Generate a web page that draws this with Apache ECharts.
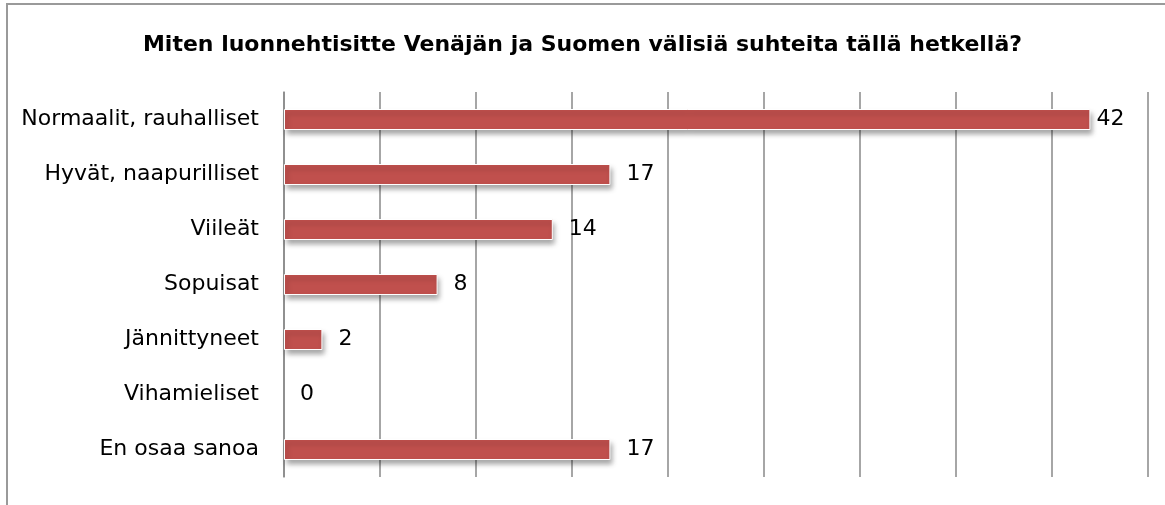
<!DOCTYPE html>
<html>
<head>
<meta charset="utf-8">
<script src="https://cdn.jsdelivr.net/npm/echarts@6/dist/echarts.min.js"></script>
<style>
  html, body { margin: 0; padding: 0; background: #fff; overflow: hidden; }
  #frame { position: absolute; left: 6px; top: 3px; width: 1200px; height: 600px;
           border-left: 2px solid #9a9a9a; border-top: 2px solid #9a9a9a; pointer-events: none; }
</style>
</head>
<body>
<div id="main" style="width: 1165px;height:505px;"></div>
<div id="frame"></div>
<script type="text/javascript">
    // kategoriat ja arvot
    var categories = ['Normaalit, rauhalliset', 'Hyvät, naapurilliset', 'Viileät', 'Sopuisat', 'Jännittyneet', 'Vihamieliset', 'En osaa sanoa'];
    var values = [42, 17, 14, 8, 2, 0, 17];
    var axisMin = 0;
    var axisMax = 45;
    var axisStep = 5;

    var myChart = echarts.init(document.getElementById('main'));
    var font = '"DejaVu Sans", sans-serif';

    var maxVal = Math.max.apply(null, values);
    var barData = values.map(function (v) {
        var item = {
            value: v,
            label: { distance: v === maxVal ? 6 : 16 }
        };
        // nollapalkille ei varjoa
        if (v === 0) {
            item.itemStyle = { shadowBlur: 0, shadowOffsetX: 0, shadowOffsetY: 0, borderWidth: 0 };
        }
        return item;
    });

    var option = {
        animation: false,
        backgroundColor: '#fff',
        title: {
            text: 'Miten luonnehtisitte Venäjän ja Suomen välisiä suhteita tällä hetkellä?',
            left: 'center',
            top: 29,
            textStyle: {
                fontFamily: font,
                fontWeight: 'bold',
                fontSize: 22,
                color: '#000'
            }
        },
        grid: {
            left: 284,
            right: 17,
            top: 92,
            bottom: 28,
            containLabel: false
        },
        xAxis: {
            type: 'value',
            min: axisMin,
            max: axisMax,
            interval: axisStep,
            axisLine: { show: false },
            axisTick: { show: false },
            axisLabel: { show: false },
            splitLine: { lineStyle: { color: '#888', width: 1.5 } }
        },
        yAxis: {
            type: 'category',
            inverse: true,
            data: categories,
            axisLine: { lineStyle: { color: '#888', width: 1.5 } },
            axisTick: { length: 5, lineStyle: { color: '#888', width: 1.5 } },
            axisLabel: {
                margin: 25,
                fontFamily: font,
                fontSize: 22,
                color: '#000'
            }
        },
        series: [{
            type: 'bar',
            data: barData,
            barWidth: 21,
            itemStyle: {
                color: '#C0504D',
                borderColor: '#fff',
                borderWidth: 1,
                shadowBlur: 5,
                shadowOffsetX: 2,
                shadowOffsetY: 4,
                shadowColor: 'rgba(0,0,0,0.35)'
            },
            label: {
                show: true,
                position: 'right',
                fontFamily: font,
                fontSize: 22,
                color: '#000'
            }
        }]
    };
    myChart.setOption(option);
</script>
</body>
</html>
